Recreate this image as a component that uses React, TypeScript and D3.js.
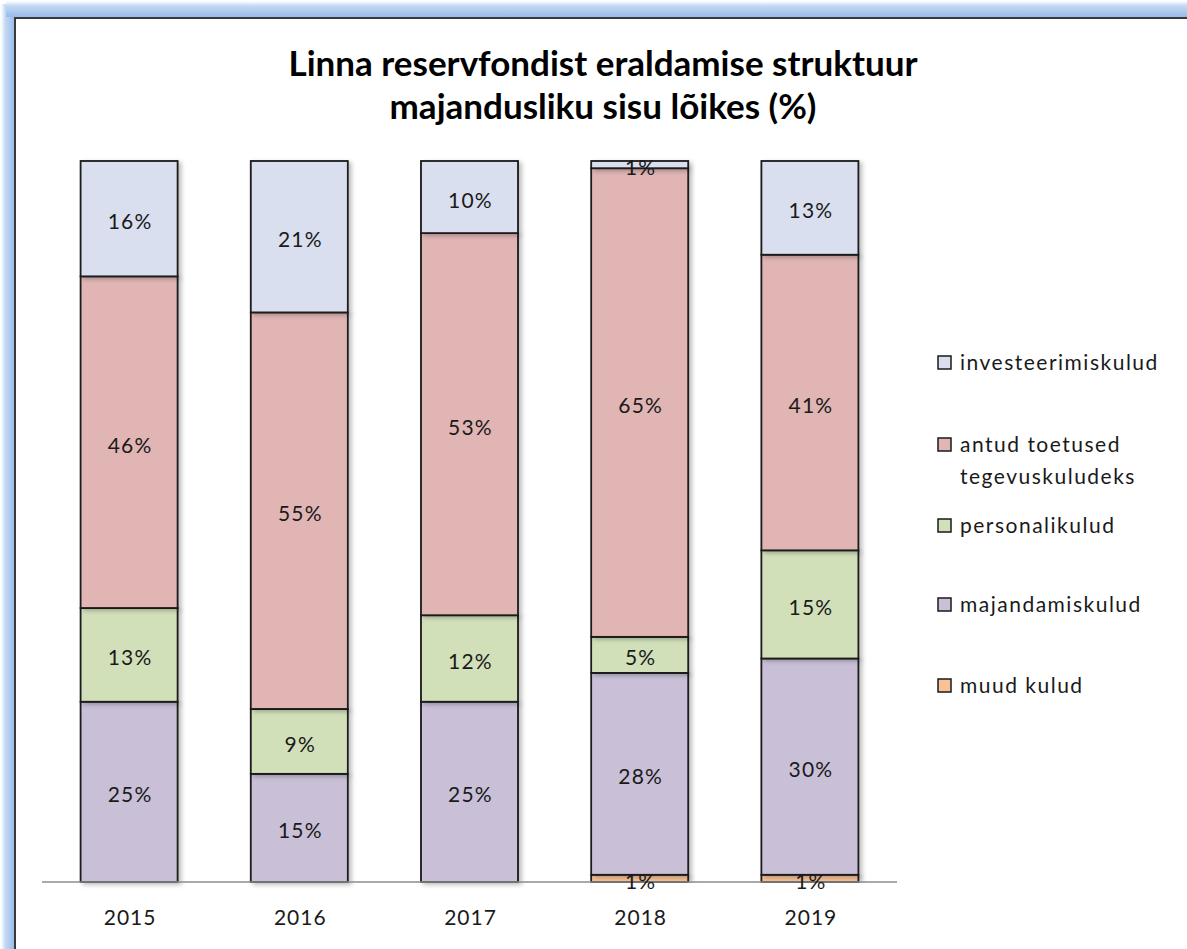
import { useEffect, useRef } from 'react';
import * as d3 from 'd3';

const years = ['2015', '2016', '2017', '2018', '2019'];
// stacked bottom -> top
const seriesNames = ['muud kulud', 'majandamiskulud', 'personalikulud', 'antud toetused tegevuskuludeks', 'investeerimiskulud'];
const muud = [0, 0, 0, 1, 1];
const majandamis = [25, 15, 25, 28, 30];
const personali = [13, 9, 12, 5, 15];
const antud = [46, 55, 53, 65, 41];
const investeerimis = [16, 21, 10, 1, 13];
const colors = ['#F8C196', '#C9C0D8', '#D2E0BA', '#E0B5B4', '#D9DFEE'];
const legendOrder = [4, 3, 2, 1, 0];
const legendLines: Record<number, string[]> = {
    4: ['investeerimiskulud'],
    3: ['antud toetused', 'tegevuskuludeks'],
    2: ['personalikulud'],
    1: ['majandamiskulud'],
    0: ['muud kulud'],
};
const titleLines = ['Linna reservfondist eraldamise struktuur', 'majandusliku sisu lõikes (%)'];

const W = 1187;
const H = 949;

export default function App() {
    const svgRef = useRef<SVGSVGElement>(null);

    useEffect(() => {
        if (!svgRef.current) return;
        const svg = d3.select(svgRef.current);
        svg.selectAll('*').remove();
        const font = 'Lato, "Open Sans", sans-serif';

        const defs = svg.append('defs');
        const shadow = defs.append('filter').attr('id', 'barShadow')
            .attr('x', '-10%').attr('y', '-5%').attr('width', '130%').attr('height', '115%');
        shadow.append('feDropShadow').attr('dx', 3).attr('dy', 2).attr('stdDeviation', 2)
            .attr('flood-color', '#000').attr('flood-opacity', 0.25);

        const glowH = defs.append('linearGradient').attr('id', 'glowL').attr('x1', 0).attr('x2', 1).attr('y1', 0).attr('y2', 0);
        glowH.append('stop').attr('offset', '0%').attr('stop-color', '#ffffff');
        glowH.append('stop').attr('offset', '30%').attr('stop-color', '#C4D9F4');
        glowH.append('stop').attr('offset', '100%').attr('stop-color', '#97BBEA');
        const glowV = defs.append('linearGradient').attr('id', 'glowT').attr('x1', 0).attr('x2', 0).attr('y1', 0).attr('y2', 1);
        glowV.append('stop').attr('offset', '0%').attr('stop-color', '#ffffff');
        glowV.append('stop').attr('offset', '30%').attr('stop-color', '#C4D9F4');
        glowV.append('stop').attr('offset', '100%').attr('stop-color', '#97BBEA');

        // outer frame
        svg.append('rect').attr('x', 0).attr('y', 0).attr('width', W).attr('height', H).attr('fill', '#fff');
        svg.append('rect').attr('x', 1).attr('y', 4).attr('width', 14).attr('height', H).attr('fill', 'url(#glowL)');
        svg.append('rect').attr('x', 6).attr('y', 1).attr('width', W).attr('height', 16).attr('fill', 'url(#glowT)');
        svg.append('rect').attr('x', 15).attr('y', 18).attr('width', W + 20).attr('height', H + 20)
            .attr('fill', '#fff').attr('stroke', '#3a3a3a').attr('stroke-width', 2);

        // title
        svg.append('text')
            .attr('x', 603).attr('y', 76)
            .attr('text-anchor', 'middle')
            .attr('font-family', font).attr('font-weight', 'bold').attr('font-size', 35)
            .attr('fill', '#000')
            .selectAll('tspan').data(titleLines).enter().append('tspan')
            .attr('x', 603).attr('dy', (_d, i) => (i === 0 ? 0 : 43))
            .text(d => d);

        const margin = { left: 44, right: 895, top: 161, bottom: 882 };
        const x = d3.scaleBand().domain(years).range([margin.left, margin.right]).paddingInner(0.43).paddingOuter(0.215);
        const y = d3.scaleLinear().domain([0, 100]).range([margin.bottom, margin.top]);

        const rows = years.map((yr, i) => ({
            year: yr,
            [seriesNames[0]]: muud[i],
            [seriesNames[1]]: majandamis[i],
            [seriesNames[2]]: personali[i],
            [seriesNames[3]]: antud[i],
            [seriesNames[4]]: investeerimis[i],
        }));
        const stacked = d3.stack<any>().keys(seriesNames)(rows);

        const g = svg.append('g');
        stacked.forEach((layer, si) => {
            const segs = layer.filter(d => d[1] - d[0] > 0);
            g.append('g').attr('filter', 'url(#barShadow)')
                .selectAll('rect').data(segs).enter().append('rect')
                .attr('x', d => x(d.data.year) as number)
                .attr('width', x.bandwidth())
                .attr('y', d => y(d[1]))
                .attr('height', d => y(d[0]) - y(d[1]))
                .attr('fill', colors[si])
                .attr('stroke', '#1a1a1a').attr('stroke-width', 1.8);
        });

        // axis baseline
        g.append('line').attr('x1', 42).attr('x2', 897).attr('y1', margin.bottom).attr('y2', margin.bottom)
            .attr('stroke', '#8c8c8c').attr('stroke-width', 1.5);

        // labels
        stacked.forEach(layer => {
            const segs = layer.filter(d => d[1] - d[0] > 0);
            g.append('g').selectAll('text').data(segs).enter().append('text')
                .attr('x', d => (x(d.data.year) as number) + x.bandwidth() / 2 + 1)
                .attr('y', d => (y(d[0]) + y(d[1])) / 2)
                .attr('dy', '0.5em')
                .attr('text-anchor', 'middle')
                .attr('font-family', font).attr('font-size', 21).attr('letter-spacing', 1.2)
                .attr('fill', '#1a1a1a')
                .text(d => `${d[1] - d[0]}%`);
        });

        // x labels
        g.append('g').selectAll('text').data(years).enter().append('text')
            .attr('x', d => (x(d) as number) + x.bandwidth() / 2 + 1)
            .attr('y', 925)
            .attr('text-anchor', 'middle')
            .attr('font-family', font).attr('font-size', 21).attr('letter-spacing', 1)
            .attr('fill', '#1a1a1a')
            .text(d => d);

        // legend
        const legendY = [363, 445, 526, 605, 686];
        const lg = svg.append('g');
        legendOrder.forEach((si, k) => {
            const cy = legendY[k];
            lg.append('rect').attr('x', 938).attr('y', cy - 7).attr('width', 13).attr('height', 13)
                .attr('fill', colors[si]).attr('stroke', '#1a1a1a').attr('stroke-width', 1.5);
            const t = lg.append('text').attr('x', 960).attr('y', cy + 7)
                .attr('font-family', font).attr('font-size', 21).attr('letter-spacing', 1.5)
                .attr('fill', '#1a1a1a');
            legendLines[si].forEach((line, li) => {
                t.append('tspan').attr('x', 960).attr('dy', li === 0 ? 0 : 32).text(line);
            });
        });
    }, []);

    return (
        <div style={{ position: 'absolute', left: 0, top: 0, width: W, height: H }}>
            <svg ref={svgRef} width={W} height={H} />
        </div>
    );
}
